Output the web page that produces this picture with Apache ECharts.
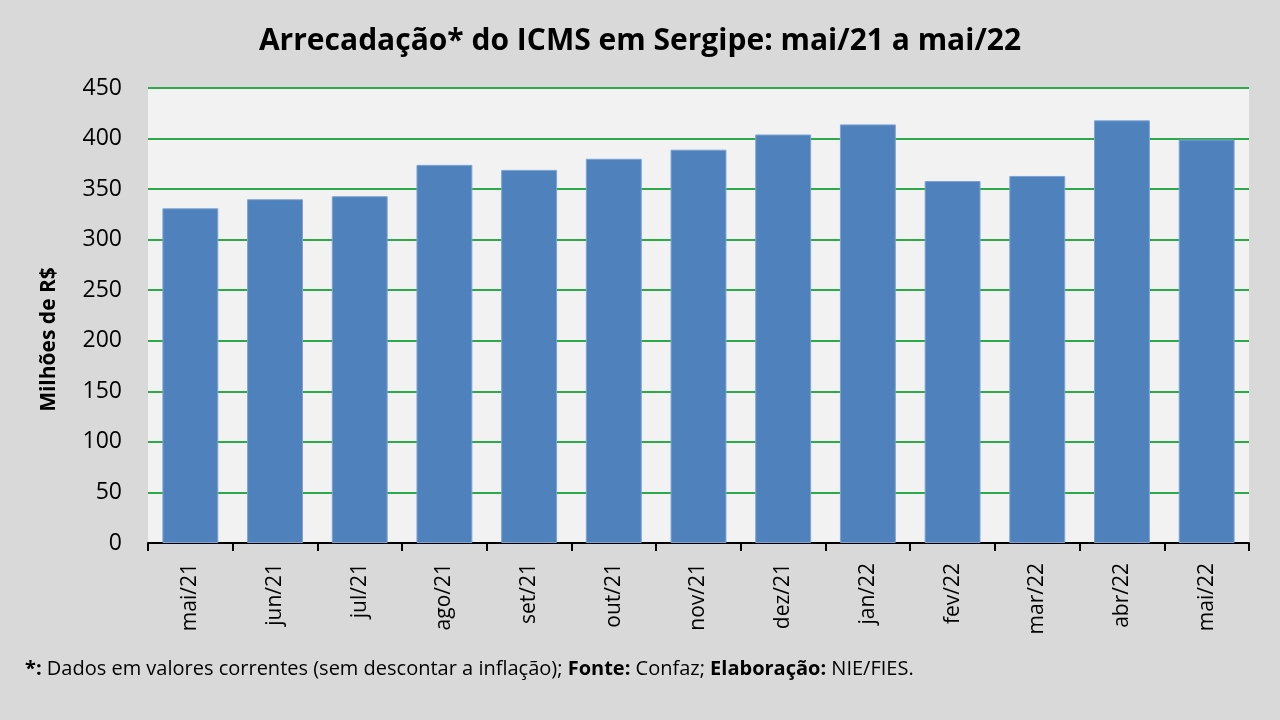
<!DOCTYPE html>
<html>
<head>
<meta charset="utf-8">
<script src="https://cdn.jsdelivr.net/npm/echarts@6/dist/echarts.min.js"></script>
<style>
  html, body { margin: 0; padding: 0; background: #d9d9d9; }
  #main { width: 1280px; height: 720px; }
</style>
</head>
<body>
<div id="main"></div>
<script>
// dados: arrecadação ICMS Sergipe (milhões de R$)
var meses = ["mai/21", "jun/21", "jul/21", "ago/21", "set/21", "out/21", "nov/21",
  "dez/21", "jan/22", "fev/22", "mar/22", "abr/22", "mai/22"];
var valores = [331, 340, 343, 374, 369, 380, 389, 404, 414, 358, 363, 418, 399];
var yTicks = [0, 50, 100, 150, 200, 250, 300, 350, 400, 450];

(function () {
  var myChart = echarts.init(document.getElementById("main"));
  var fonte = "'Open Sans', 'Noto Sans', sans-serif";
  var option = {
    backgroundColor: "#d9d9d9",
    textStyle: { fontFamily: fonte },
    title: [
      {
        text: "Arrecadação* do ICMS em Sergipe: mai/21 a mai/22",
        left: "center",
        top: 21,
        textStyle: { fontSize: 30, fontWeight: "bold", color: "#000", fontFamily: fonte }
      },
      {
        // nota de rodapé com partes em negrito
        text: "{b|*:} Dados em valores correntes (sem descontar a inflação); {b|Fonte:} Confaz; {b|Elaboração:} NIE/FIES.",
        left: 20,
        top: 654,
        textStyle: {
          fontSize: 20, fontWeight: "normal", color: "#000", fontFamily: fonte,
          rich: {
            b: { fontSize: 20, fontWeight: "bold", color: "#000", fontFamily: fonte }
          }
        }
      }
    ],
    grid: {
      left: 148,
      right: 31,
      top: 88,
      bottom: 177,
      show: true,
      backgroundColor: "#f2f2f2",
      borderWidth: 0
    },
    xAxis: {
      type: "category",
      data: meses,
      axisLine: { lineStyle: { color: "#000", width: 2 } },
      axisTick: { show: true, length: 8, lineStyle: { color: "#000", width: 2 } },
      axisLabel: { rotate: 90, color: "#000", fontSize: 21, margin: 20, fontFamily: fonte }
    },
    yAxis: {
      type: "value",
      min: yTicks[0],
      max: yTicks[yTicks.length - 1],
      interval: 50,
      name: "Milhões de R$",
      nameLocation: "middle",
      nameGap: 88,
      nameTextStyle: {
        fontSize: 21, fontWeight: "bold", color: "#000", fontFamily: fonte,
        padding: [0, 48, 0, 0]
      },
      axisLine: { show: false },
      axisTick: { show: false },
      axisLabel: { color: "#000", fontSize: 23, margin: 26, fontFamily: fonte },
      splitLine: { lineStyle: { color: "#2ea84a", width: 2 } }
    },
    series: [
      {
        name: "ICMS",
        type: "bar",
        data: valores,
        barWidth: "66%",
        itemStyle: {
          color: "#4f81bd",
          borderColor: "#7ea3d3",
          borderWidth: 1
        }
      }
    ]
  };
  myChart.setOption(option);
  window.addEventListener("resize", function () {
    myChart.resize();
  });
})();
</script>
</body>
</html>
